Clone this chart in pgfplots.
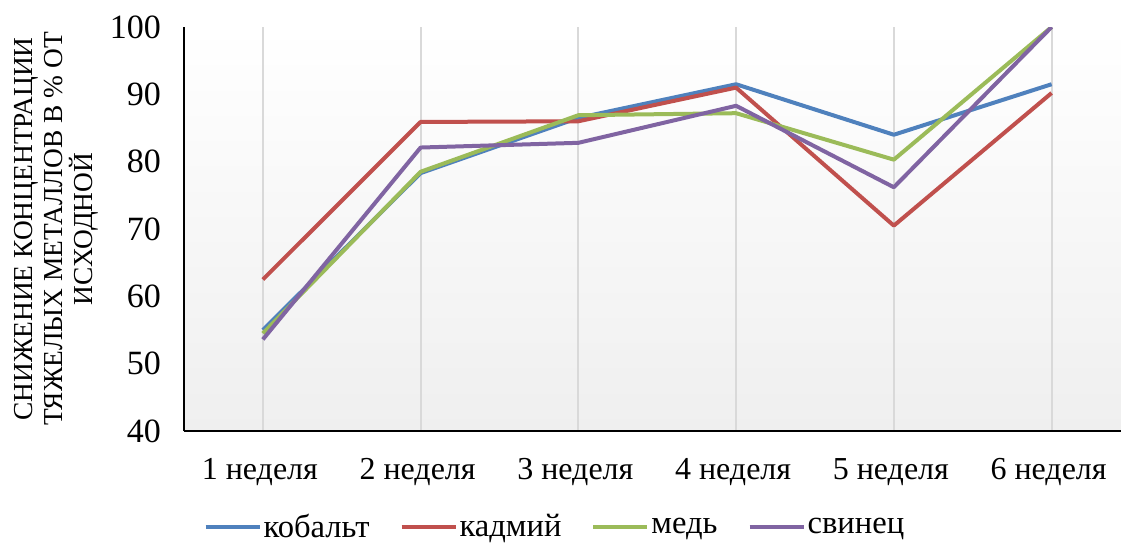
\documentclass[border=0pt]{standalone}
\usepackage{fontspec}
\setmainfont{Liberation Serif}
\usepackage{pgfplots}
\pgfplotsset{compat=1.18}
\definecolor{cblue}{HTML}{4F81BD}
\definecolor{cred}{HTML}{C0504D}
\definecolor{cgreen}{HTML}{9BBB59}
\definecolor{cpurple}{HTML}{8064A2}
\definecolor{gridgrey}{HTML}{D9D9D9}
\definecolor{bggrey}{HTML}{EFEFEF}
\begin{document}
\begin{tikzpicture}
\useasboundingbox (-92pt,-55.5pt) rectangle (468.5pt,215.5pt);
\begin{axis}[
  scale only axis,
  width=468.5pt, height=202pt,
  xmin=-0.5, xmax=5.44,
  ymin=40, ymax=100,
  ytick={40,50,...,100},
  xtick={0,1,2,3,4,5},
  xticklabels={1 неделя,2 неделя,3 неделя,4 неделя,5 неделя,6 неделя},
  axis lines*=left,
  axis line style={black, line width=0.9pt, -},
  tick style={draw=none},
  xmajorgrids,
  grid style={draw=gridgrey, line width=0.9pt},
  axis background/.style={top color=white, bottom color=bggrey},
  /pgf/number format/assume math mode=true,
  yticklabel style={font=\fontsize{17}{19}\selectfont, xshift=-8pt},
  xticklabel style={font=\fontsize{16}{18}\selectfont, yshift=-10pt, xshift=-1.5pt},
  ylabel={СНИЖЕНИЕ КОНЦЕНТРАЦИИ\\ТЯЖЕЛЫХ МЕТАЛЛОВ В \% ОТ\\ИСХОДНОЙ},
  ylabel style={at={(axis description cs:-0.1366,0.5)}, anchor=center, align=center, font=\fontsize{13.7}{15}\selectfont},
  legend columns=4,
  legend style={at={(axis description cs:0.398,-0.238)}, anchor=center, draw=none, fill=none,
    font=\fontsize{16.3}{18}\selectfont, inner sep=0pt,
    nodes={inner ysep=0.5pt, inner xsep=3pt},
    /tikz/every even column/.append style={column sep=12pt},
    /tikz/every odd column/.append style={column sep=-2pt}},
  legend image code/.code={\draw[#1, line width=2pt] (0pt,0pt) -- (27pt,0pt);},
  every axis plot/.append style={line width=2pt, line join=round},
]
\addplot[cblue] coordinates {(0,55.0) (1,78.3) (2,86.5) (3,91.5) (4,84.0) (5,91.5)};
\addlegendentry{кобальт}
\addplot[cred] coordinates {(0,62.5) (1,85.9) (2,86.0) (3,91.0) (4,70.5) (5,90.2)};
\addlegendentry{кадмий}
\addplot[cgreen] coordinates {(0,54.5) (1,78.5) (2,86.9) (3,87.2) (4,80.3) (5,100)};
\addlegendentry{медь}
\addplot[cpurple] coordinates {(0,53.6) (1,82.1) (2,82.8) (3,88.3) (4,76.2) (5,100)};
\addlegendentry{свинец}
\end{axis}
\end{tikzpicture}
\end{document}
